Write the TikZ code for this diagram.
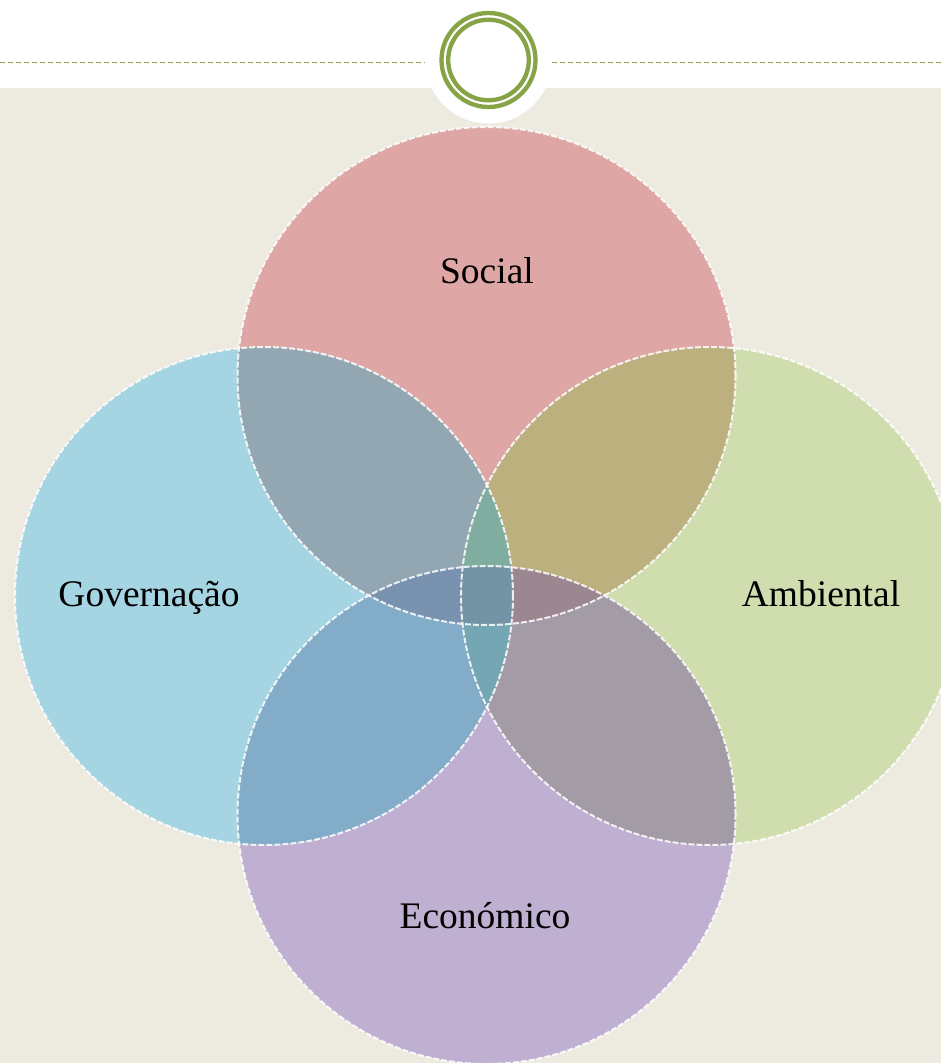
\documentclass[tikz,border=0pt]{standalone}
\usepackage{fontspec}
\setmainfont{Liberation Serif}
\definecolor{cbg}{HTML}{EDEBE0}
\definecolor{cring}{HTML}{86A446}
\definecolor{cdash}{HTML}{8FAC52}
\definecolor{cS}{HTML}{DFA6A6}
\definecolor{cG}{HTML}{A5D4E2}
\definecolor{cA}{HTML}{CFDDAF}
\definecolor{cE}{HTML}{BFB0D1}
\definecolor{cSG}{HTML}{93A7B2}
\definecolor{cSA}{HTML}{BCB07F}
\definecolor{cGE}{HTML}{83ACC8}
\definecolor{cAE}{HTML}{A39CA6}
\definecolor{cSGA}{HTML}{7FAD9F}
\definecolor{cSGE}{HTML}{7892B0}
\definecolor{cSAE}{HTML}{9C8690}
\definecolor{cGAE}{HTML}{74A6B4}
\definecolor{cALL}{HTML}{7394A5}
\newcommand{\vennR}{249pt}
\begin{document}
\begin{tikzpicture}[x=1pt,y=-1pt,
  ring/.style={draw=cring, line width=4.3pt},
  hdash/.style={draw=cdash, line width=1.8pt, dash pattern=on 5pt off 3pt},
  vennline/.style={draw=white, draw opacity=0.85, line width=2pt, dash pattern=on 6pt off 2pt},
  lbl/.style={font=\fontsize{37.5}{44}\selectfont, text=black, anchor=base, inner sep=0pt}]
\useasboundingbox (0,0) rectangle (941,1063);
\clip (0,0) rectangle (941,1063);
% background
\fill[white] (0,0) rectangle (941,88);
\fill[cbg] (0,88) rectangle (941,1063);
\coordinate (top) at (488.5,60);
\draw[hdash] (0,62.5) -- (941,62.5);
\fill[white] (top) circle[radius=63.5pt];
\draw[ring] (top) circle[radius=47pt];
\draw[ring] (top) circle[radius=40.3pt];
% venn centres
\coordinate (cs) at (486.5,376);
\coordinate (cg) at (264,596);
\coordinate (ca) at (710,596);
\coordinate (ce) at (486.5,815);
% base circles
\fill[cS] (cs) circle[radius=\vennR];
\fill[cG] (cg) circle[radius=\vennR];
\fill[cA] (ca) circle[radius=\vennR];
\fill[cE] (ce) circle[radius=\vennR];
% pairs
\begin{scope}
  \clip (cs) circle[radius=\vennR];
  \fill[cSG] (cg) circle[radius=\vennR];
  \fill[cSA] (ca) circle[radius=\vennR];
\end{scope}
\begin{scope}
  \clip (ce) circle[radius=\vennR];
  \fill[cGE] (cg) circle[radius=\vennR];
  \fill[cAE] (ca) circle[radius=\vennR];
\end{scope}
% triples
\begin{scope}
  \clip (cs) circle[radius=\vennR];
  \clip (cg) circle[radius=\vennR];
  \fill[cSGA] (ca) circle[radius=\vennR];
  \fill[cSGE] (ce) circle[radius=\vennR];
\end{scope}
\begin{scope}
  \clip (ca) circle[radius=\vennR];
  \clip (ce) circle[radius=\vennR];
  \fill[cSAE] (cs) circle[radius=\vennR];
  \fill[cGAE] (cg) circle[radius=\vennR];
\end{scope}
% all four
\begin{scope}
  \clip (cs) circle[radius=\vennR];
  \clip (cg) circle[radius=\vennR];
  \clip (ca) circle[radius=\vennR];
  \fill[cALL] (ce) circle[radius=\vennR];
\end{scope}
% outlines
\draw[vennline] (cs) circle[radius=\vennR];
\draw[vennline] (cg) circle[radius=\vennR];
\draw[vennline] (ca) circle[radius=\vennR];
\draw[vennline] (ce) circle[radius=\vennR];
% labels
\node[lbl] (social) at (487,283) {Social};
\node[lbl] (gov) at (149,606) {Governação};
\node[lbl] (amb) at (821,606) {Ambiental};
\node[lbl] (eco) at (485,928) {Económico};
\end{tikzpicture}
\end{document}
